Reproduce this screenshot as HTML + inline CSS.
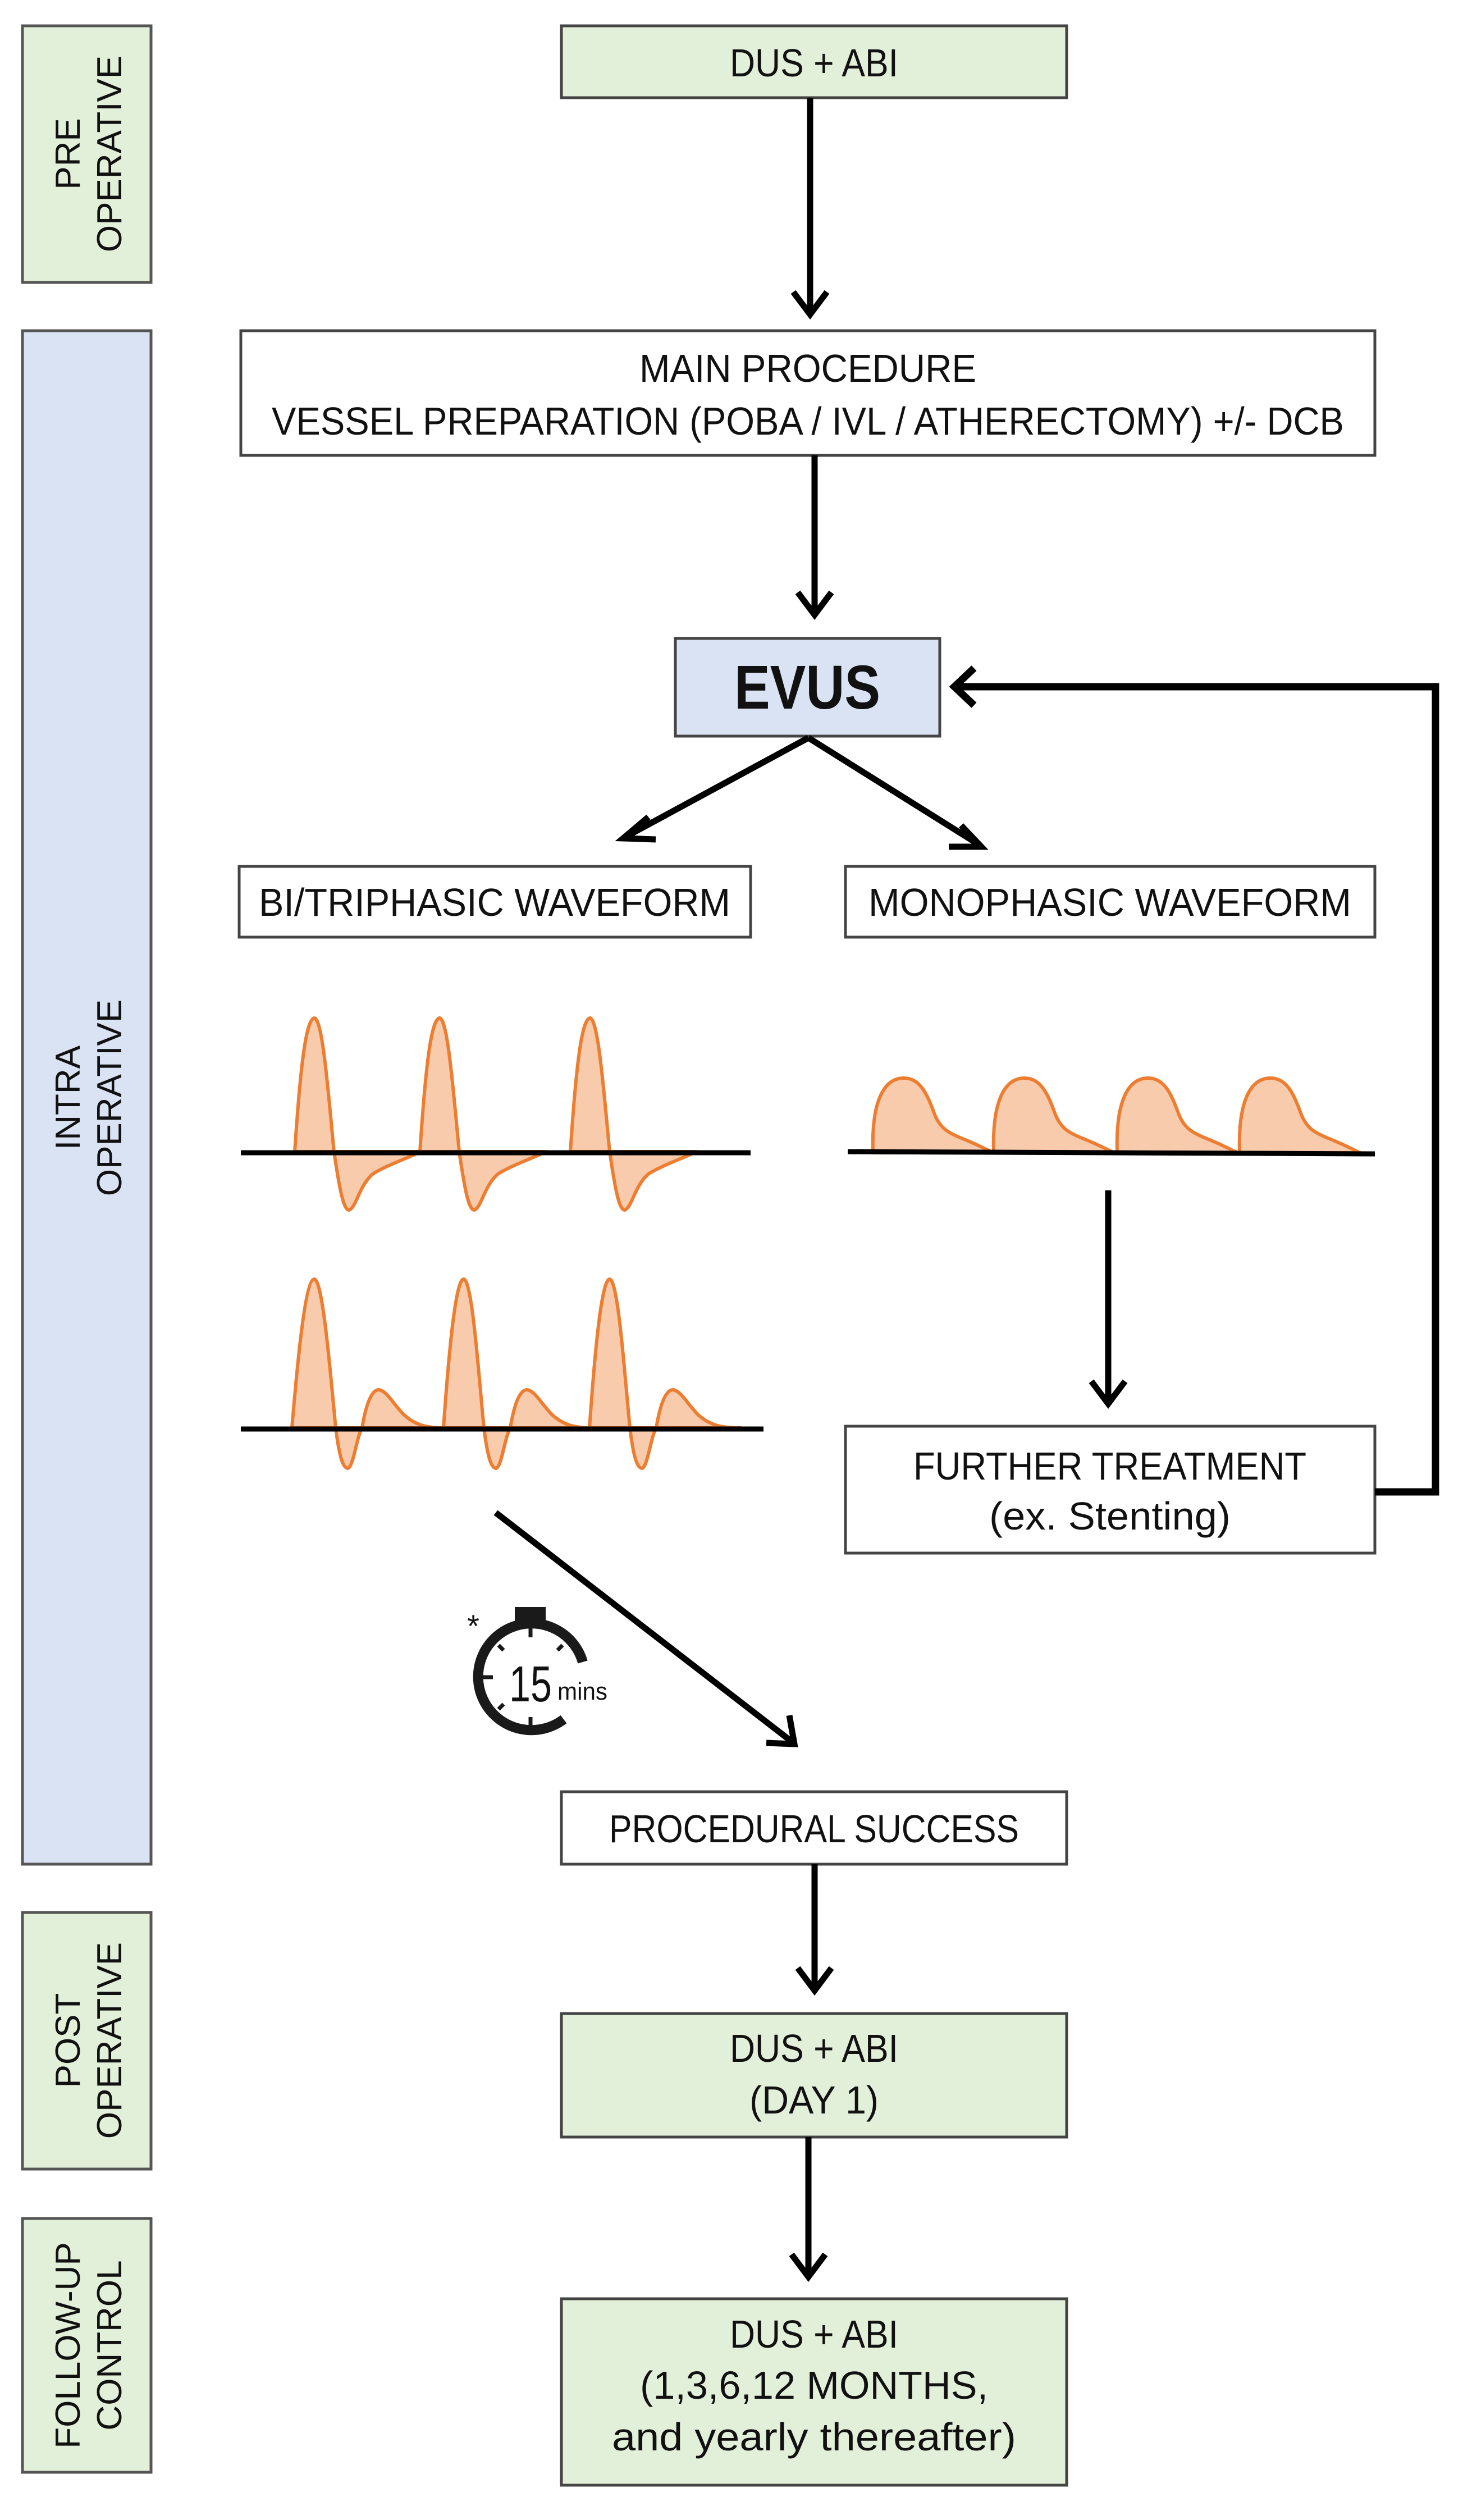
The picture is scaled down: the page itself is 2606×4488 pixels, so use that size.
<!DOCTYPE html>
<html><head><meta charset="utf-8"><style>
html,body{margin:0;padding:0;background:#fff}
svg{display:block}
text{font-family:"Liberation Sans",sans-serif;fill:#111}
</style></head><body>
<svg width="2606" height="4488" viewBox="0 0 2606 4488" xmlns="http://www.w3.org/2000/svg">
<g stroke="#555" stroke-width="5">
<rect x="40" y="46" width="229" height="457" fill="#e2efd9"/>
<rect x="40" y="589" width="229" height="2731" fill="#dae3f3"/>
<rect x="40" y="3406" width="229" height="457" fill="#e2efd9"/>
<rect x="40" y="3951" width="229" height="452" fill="#e2efd9"/>
</g>
<g font-size="62" text-anchor="middle">
<text transform="translate(154,274) rotate(-90)"><tspan x="0" y="-12">PRE</tspan><tspan x="0" y="62">OPERATIVE</tspan></text>
<text transform="translate(154,1955) rotate(-90)"><tspan x="0" y="-12">INTRA</tspan><tspan x="0" y="62">OPERATIVE</tspan></text>
<text transform="translate(154,3634) rotate(-90)"><tspan x="0" y="-12">POST</tspan><tspan x="0" y="62">OPERATIVE</tspan></text>
<text transform="translate(154,4177) rotate(-90)"><tspan x="0" y="-12">FOLLOW-UP</tspan><tspan x="0" y="62">CONTROL</tspan></text>
</g>
<g stroke="#444" stroke-width="5">
<rect x="1000" y="46" width="900" height="128" fill="#e2efd9"/>
<rect x="429" y="589" width="2020" height="222" fill="#fff"/>
<rect x="1203" y="1137" width="471" height="174" fill="#dae3f3"/>
<rect x="426" y="1543" width="911" height="126" fill="#fff"/>
<rect x="1506" y="1543" width="943" height="126" fill="#fff"/>
<rect x="1506" y="2540" width="943" height="226" fill="#fff"/>
<rect x="1000" y="3191" width="900" height="129" fill="#fff"/>
<rect x="1000" y="3586" width="900" height="220" fill="#e2efd9"/>
<rect x="1000" y="4094" width="900" height="332" fill="#e2efd9"/>
</g>
<g font-size="70" text-anchor="middle">
<text x="1450" y="136" textLength="300" lengthAdjust="spacingAndGlyphs">DUS + ABI</text>
<text x="1439" y="680" textLength="600" lengthAdjust="spacingAndGlyphs">MAIN PROCEDURE</text>
<text x="1439" y="774" textLength="1910" lengthAdjust="spacingAndGlyphs">VESSEL PREPARATION (POBA / IVL / ATHERECTOMY) +/- DCB</text>
<text x="1438" y="1262" font-size="110" font-weight="bold" textLength="260" lengthAdjust="spacingAndGlyphs">EVUS</text>
<text x="881" y="1631" textLength="840" lengthAdjust="spacingAndGlyphs">BI/TRIPHASIC WAVEFORM</text>
<text x="1977" y="1631" textLength="860" lengthAdjust="spacingAndGlyphs">MONOPHASIC WAVEFORM</text>
<text x="1977" y="2635" textLength="700" lengthAdjust="spacingAndGlyphs">FURTHER TREATMENT</text>
<text x="1977" y="2724" textLength="430" lengthAdjust="spacingAndGlyphs">(ex. Stenting)</text>
<text x="1450" y="3281" textLength="730" lengthAdjust="spacingAndGlyphs">PROCEDURAL SUCCESS</text>
<text x="1450" y="3672" textLength="300" lengthAdjust="spacingAndGlyphs">DUS + ABI</text>
<text x="1450" y="3764" textLength="230" lengthAdjust="spacingAndGlyphs">(DAY 1)</text>
<text x="1450" y="4181" textLength="300" lengthAdjust="spacingAndGlyphs">DUS + ABI</text>
<text x="1450" y="4272" textLength="620" lengthAdjust="spacingAndGlyphs">(1,3,6,12 MONTHS,</text>
<text x="1450" y="4364" textLength="720" lengthAdjust="spacingAndGlyphs">and yearly  thereafter)</text>
</g>
<g stroke="#000" stroke-width="11" fill="none" stroke-linecap="butt">
<line x1="1443" y1="174" x2="1443" y2="555"/>
<polyline points="1413,520 1443,560 1473,520"/>
<line x1="1451" y1="811" x2="1451" y2="1090"/>
<polyline points="1421,1055 1451,1095 1481,1055"/>
<line x1="1440" y1="1314" x2="1115" y2="1490"/>
<polyline points="1155,1455 1110,1493 1168,1495"/>
<line x1="1440" y1="1314" x2="1745" y2="1505"/>
<polyline points="1690,1508 1748,1508 1712,1470"/>
<polyline points="2449,2657 2557,2657 2557,1223 1700,1223" stroke-width="13"/>
<polyline points="1735,1190 1700,1223 1735,1256" stroke-width="13"/>
<line x1="1974" y1="2120" x2="1974" y2="2495"/>
<polyline points="1944,2460 1974,2500 2004,2460"/>
<line x1="883" y1="2694" x2="1412" y2="3103"/>
<polyline points="1406,3055 1415,3106 1365,3104"/>
<line x1="1451" y1="3320" x2="1451" y2="3540"/>
<polyline points="1421,3505 1451,3545 1481,3505"/>
<line x1="1440" y1="3806" x2="1440" y2="4050"/>
<polyline points="1410,4015 1440,4055 1470,4015"/>
</g>
<g fill="#f8cbad" stroke="#ed7d31" stroke-width="6" stroke-linejoin="round">
<path d="M525,2051 C535,1900 545,1815 560,1813 C575,1815 585,1950 595,2051 C605,2120 612,2155 622,2155 C635,2150 640,2110 665,2090 C690,2075 720,2065 750,2051 Z"/>
<path d="M748,2051 C758,1900 768,1815 783,1813 C798,1815 808,1950 818,2051 C828,2120 835,2155 845,2155 C858,2150 863,2110 888,2090 C913,2075 943,2065 973,2051 Z"/>
<path d="M1016,2051 C1026,1900 1036,1815 1051,1813 C1066,1815 1076,1950 1086,2051 C1096,2120 1103,2155 1113,2155 C1126,2150 1131,2110 1156,2090 C1181,2075 1211,2065 1241,2051 Z"/>
<path d="M520,2543 C532,2400 545,2278 560,2278 C575,2280 588,2440 598,2543 C605,2600 612,2615 620,2615 C630,2610 635,2560 645,2543 C652,2500 662,2475 675,2475 C690,2478 700,2500 720,2520 C740,2538 760,2543 790,2543 Z"/>
<path d="M790,2543 C800,2400 812,2278 826,2278 C841,2280 852,2440 862,2543 C869,2600 876,2615 884,2615 C894,2610 899,2560 909,2543 C916,2500 926,2475 939,2475 C954,2478 964,2500 984,2520 C1004,2538 1024,2543 1054,2543 Z"/>
<path d="M1050,2543 C1060,2400 1072,2278 1086,2278 C1101,2280 1112,2440 1122,2543 C1129,2600 1136,2615 1144,2615 C1154,2610 1159,2560 1169,2543 C1176,2500 1186,2475 1199,2475 C1214,2478 1224,2500 1244,2520 C1264,2538 1284,2543 1320,2543 Z"/>
<path d="M1555,2053 C1552,1960 1575,1920 1610,1920 C1640,1920 1652,1950 1665,1985 C1675,2010 1690,2018 1715,2028 C1745,2040 1762,2050 1770,2053 Z"/>
<path d="M1770,2053 C1767,1960 1790,1920 1825,1920 C1855,1920 1867,1950 1880,1985 C1890,2010 1905,2018 1930,2028 C1960,2040 1977,2050 1985,2053 Z"/>
<path d="M1990,2053 C1987,1960 2010,1920 2045,1920 C2075,1920 2087,1950 2100,1985 C2110,2010 2125,2018 2150,2028 C2180,2040 2197,2050 2205,2053 Z"/>
<path d="M2208,2053 C2205,1960 2228,1920 2263,1920 C2293,1920 2305,1950 2318,1985 C2328,2010 2343,2018 2368,2028 C2398,2040 2415,2050 2423,2053 Z"/>
</g>
<g stroke="#000" stroke-width="9">
<line x1="429" y1="2053" x2="1337" y2="2053"/>
<line x1="429" y1="2545" x2="1360" y2="2545"/>
<line x1="1510" y1="2051" x2="2449" y2="2055"/>
</g>
<g fill="none" stroke="#1a1a1a">
<path d="M1038,2960 A95,95 0 1,0 1004,3062" stroke-width="18"/>
<g stroke-width="7">
<line x1="945" y1="2900" x2="945" y2="2916"/>
<line x1="945" y1="3058" x2="945" y2="3074"/>
<line x1="860" y1="2987" x2="878" y2="2987"/>
<line x1="888" y1="2930" x2="897" y2="2939"/>
<line x1="888" y1="3044" x2="897" y2="3035"/>
<line x1="1002" y1="2930" x2="993" y2="2939"/>
</g>
</g>
<rect x="917" y="2862" width="55" height="32" fill="#1a1a1a"/>
<text x="945" y="3030" font-size="90" text-anchor="middle" textLength="76" lengthAdjust="spacingAndGlyphs">15</text>
<text x="993" y="3027" font-size="44" textLength="89" lengthAdjust="spacingAndGlyphs">mins</text>
<text x="843" y="2915" font-size="56" text-anchor="middle">*</text>
</svg>
</body></html>
